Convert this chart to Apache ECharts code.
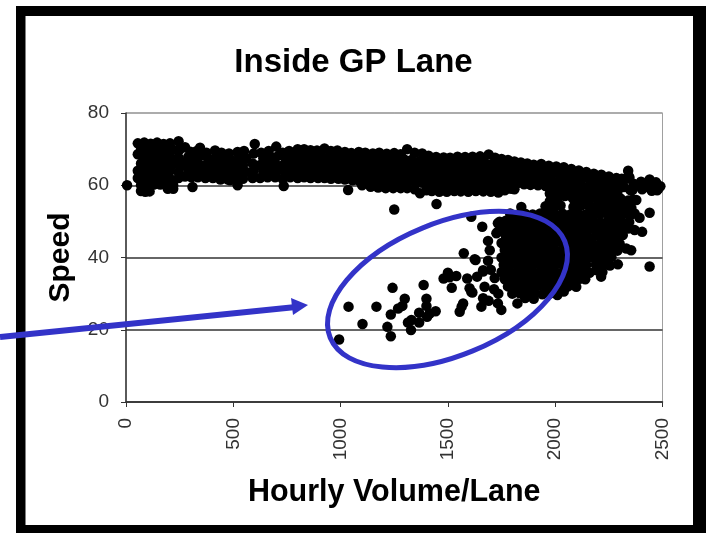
<!DOCTYPE html>
<html>
<head>
<meta charset="utf-8">
<title>Inside GP Lane</title>
<script src="https://cdn.jsdelivr.net/npm/echarts@6/dist/echarts.min.js"></script>
<style>
  html, body { margin: 0; padding: 0; background: #fff; }
  #chart { width: 706px; height: 533px; }
</style>
</head>
<body>
<div id="chart"></div>
<script>
// values, [hourly volume per lane, speed]
const bandTop = [[55,71.6],[85,71.8],[115,71.5],[145,71.8],[175,71.4],[205,71.6],[245,72.2],[275,70.5],[300,69.3],[330,69.5],[345,70.4],[375,69],[415,69.6],[445,69],[480,68.8],[520,69.2],[550,69.5],[600,71.4],[630,69],[665,69.5],[700,70.7],[730,69],[760,69.5],[800,70],[830,70],[860,69.7],[890,69.6],[925,70.2],[955,69.5],[985,69.6],[1020,69.2],[1050,68.9],[1085,69.2],[1115,69],[1150,68.8],[1180,69],[1215,68.7],[1250,68.9],[1280,68.6],[1310,70],[1345,69],[1380,68.8],[1410,68.2],[1445,67.8],[1480,67.7],[1510,67.6],[1545,67.9],[1580,67.8],[1615,67.9],[1650,68],[1690,68.5],[1720,67.6],[1750,67.3],[1780,67],[1810,66.6],[1840,66.3],[1870,66],[1900,65.7],[1935,65.9],[1970,65.4],[2005,65.2],[2040,65],[2075,64.5],[2110,64.1],[2145,63.7],[2180,63.2],[2215,62.9],[2250,62.4],[2285,62],[2310,61.8],[2340,64],[2345,62],[2400,61],[2440,61.6],[2470,60.8],[2490,59.7]]
const bandUpper = [[70,69.8],[100,69.6],[130,70],[160,69.8],[190,69.5],[220,69.8],[250,69.9],[290,67.8],[320,67.5],[350,68.2],[385,67.4],[420,67.6],[455,67.2],[490,67],[525,67.3],[560,67.5],[595,68.8],[640,67.5],[675,67.8],[710,68.2],[745,67.4],[780,67.8],[815,68],[845,67.8],[875,67.7],[910,68],[940,67.7],[970,67.5],[1005,67.4],[1035,67.2],[1070,67.2],[1100,67],[1135,66.9],[1165,67],[1200,66.8],[1235,66.9],[1265,66.7],[1295,67.2],[1330,67],[1365,66.6],[1395,66.4],[1430,66],[1465,65.8],[1495,65.7],[1530,65.9],[1565,65.8],[1600,66],[1635,66],[1670,66.3],[1705,65.8],[1735,65.4],[1765,65.1],[1795,64.7],[1825,64.4],[1855,64.1],[1885,63.9],[1920,63.9],[1955,63.5],[1990,63.3],[2025,63],[2060,62.7],[2095,62.3],[2130,61.9],[2165,61.4],[2200,61],[2235,60.6],[2270,60.2],[2300,60],[2330,61.8],[2365,60.4],[2420,59.5],[2455,59.8],[2480,59]]
const bandMiddle = [[55,68.6],[85,67.8],[115,68],[145,67.8],[175,67.6],[205,67.8],[245,67.6],[275,66.2],[305,65.8],[335,66],[370,65.6],[405,65.7],[440,65.3],[475,65.1],[510,65.4],[545,65.6],[590,66],[625,65.6],[660,65.8],[695,66],[730,65.5],[765,65.8],[800,66],[830,65.9],[860,65.7],[895,66],[925,65.8],[955,65.6],[990,65.5],[1020,65.3],[1055,65.3],[1085,65.1],[1120,65],[1150,65],[1185,64.9],[1220,65],[1250,64.8],[1280,65],[1315,65],[1350,64.7],[1380,64.5],[1415,64.1],[1450,63.9],[1480,63.8],[1515,64],[1550,63.9],[1585,64],[1620,64],[1655,64.3],[1690,64.2],[1720,63.6],[1750,63.2],[1780,62.8],[1810,62.5],[1840,62.2],[1870,62],[1905,62],[1940,61.7],[1975,61.4],[2010,61],[2045,60.8],[2080,60.4],[2115,60],[2150,59.5],[2185,59.2],[2220,58.8],[2255,58.4],[2290,58.2],[2320,59.5],[2350,58.7]]
const bandLower = [[70,66],[100,66],[130,65.8],[160,65.8],[190,65.6],[220,65.8],[255,65.4],[290,64.3],[320,64],[350,64.1],[385,63.8],[420,63.8],[455,63.4],[490,63.3],[525,63.5],[560,63.7],[595,64],[640,63.8],[675,64],[710,64.2],[745,63.6],[780,64],[815,64],[845,64],[875,63.8],[910,64],[940,63.9],[970,63.7],[1005,63.6],[1035,63.4],[1070,63.4],[1100,63.2],[1135,63],[1165,63],[1200,63],[1235,63],[1265,62.9],[1295,63],[1330,63],[1365,62.8],[1395,62.6],[1430,62.2],[1465,62],[1495,62],[1530,62.1],[1565,62],[1600,62.1],[1635,62.1],[1670,62.3],[1705,62],[1735,61.7],[1765,61.3],[1795,61],[1825,60.6],[1855,60.3],[1885,60.1],[1920,60],[1955,59.8],[1990,59.5],[2025,59.2],[2060,58.9],[2095,58.5],[2130,58],[2165,57.6],[2200,57.2],[2235,57],[2270,56.6]]
const bandBottom = [[55,64],[85,64],[115,64],[145,63.9],[175,63.8],[205,64],[245,63.6],[275,62.4],[305,62.2],[335,62.2],[370,62],[405,62],[440,61.6],[475,61.6],[510,61.6],[545,61.8],[590,62],[625,62],[660,62.2],[695,62.2],[730,61.8],[765,62.2],[800,62],[830,62.2],[860,62],[895,62],[925,62],[955,61.8],[990,61.8],[1020,61.6],[1055,61.4],[1085,61.3],[1120,61.2],[1150,61],[1185,61],[1220,61],[1250,61],[1280,61],[1315,61],[1350,60.9],[1380,60.7],[1415,60.4],[1450,60.2],[1480,60],[1515,60.3],[1550,60.1],[1585,60.2],[1620,60.3],[1655,60.4],[1690,60.2],[1720,59.8],[1750,59.5],[1780,59.2],[1810,58.9],[1975,57.7],[2010,57.4],[2045,57],[2080,56.6],[2115,56.2],[2150,55.8]]
const bandEdge = [[55,62],[85,62],[115,62],[145,61.8],[175,62],[205,61.8],[245,62],[70,60],[100,60],[130,60.2],[160,60.2],[190,60],[220,60],[5,60],[70,58.4],[90,58.2],[110,58.3],[195,59],[220,59],[310,59.5],[485,61.4],[520,60],[735,59.8],[1035,58.7],[1100,60],[1140,59.6],[1175,59.4],[1210,59.2],[1245,59.2],[1280,59.2],[1310,59.2],[1345,58.9],[1370,57.8],[1400,58.6],[1425,58.4],[1460,58.2],[1495,58.2],[1530,58.4],[1560,58.3],[1595,58.2],[1630,58.4],[1665,58.3],[1700,58.2],[1735,58],[1765,58.6],[1795,59],[2345,62.3],[2370,59.8],[2405,58.9],[2425,60],[2450,58.5],[2475,58.6],[2360,58.7]]
const lowerCloud = [[993,17.3],[1037,26.4],[1102,21.6],[1167,26.4],[1242,31.6],[1234,24.2],[1218,20.8],[1234,18.2],[1299,28.6],[1288,26.6],[1268,25.9],[1328,19.9],[1314,22],[1330,22.7],[1366,22],[1366,24.7],[1387,32.4],[1400,28.6],[1400,26.6],[1403,23.6],[1415,24.5],[1443,25.1],[1480,34.2],[1500,35.8],[1508,34.5],[1539,34.9],[1518,31.6],[1574,41.2],[1564,26.4],[1571,27.3],[1555,25],[1590,34.2],[1601,31.5],[1614,30.3],[1629,39.3],[1636,34.7],[1656,26.4],[1664,28.7],[1664,36.1],[1687,39.1],[1671,31.9],[1695,42],[1687,44.6],[1660,48.5],[1609,51.3],[1726,46.7],[1733,49.5],[1625,39.5],[1664,36.5],[1609,30.5],[1733,27.3],[1749,25.5],[1824,27.3],[1250,53.3],[1447,54.8],[1741,49.9],[1733,47.1],[1700,36.6],[1715,31.2],[1690,28],[1718,34.3],[1735,30]]
const coreHigh = [[1842,54],[1955,54.2],[1990,53.8],[2025,54.4],[2085,54],[2120,54.3],[2160,54],[1975,55.6],[2010,56],[2090,55.8],[2125,56.2],[1790,52.2],[1825,51.8],[1860,52.1],[1895,51.9],[1930,52.2],[1965,51.8],[2000,52],[2035,52.1],[2070,51.9],[2105,52.1],[2140,51.8],[2210,52.1],[1770,50.2],[1805,49.9],[1840,50.1],[1875,49.8],[1910,50.2],[1945,50],[1980,49.8],[2015,50.2],[2050,50],[2085,49.9],[2120,50.2],[2150,50],[2210,49.7],[2245,50.1],[1750,48.1],[1785,47.9],[1820,48.2],[1855,47.8],[1890,48],[1925,48.1],[1960,47.9],[1995,48.2],[2030,47.9],[2065,48],[2100,48.1],[2130,47.8],[2200,48],[2240,48.2]]
const coreMiddle = [[1770,46],[1805,46.2],[1840,45.9],[1875,46.1],[1910,46],[1945,45.8],[1980,46.1],[2015,46],[2050,45.9],[2085,46.2],[2120,46],[2150,45.9],[2190,46.1],[1750,44],[1785,44.2],[1820,43.9],[1855,44.1],[1890,44],[1925,43.8],[1960,44.1],[1995,44],[2030,44.2],[2065,43.9],[2100,44],[2135,44.1],[2170,44],[2210,43.9],[1765,42.1],[1800,41.9],[1835,42],[1870,42.2],[1905,41.9],[1940,42],[1975,42.1],[2010,41.8],[2045,42],[2080,42.1],[2115,41.9],[2150,42],[2180,42.1],[2215,41.9],[1750,40],[1785,40.1],[1820,39.8],[1855,40],[1890,40.2],[1925,39.9],[1960,40],[1995,40.1],[2030,39.9],[2065,40],[2100,40.2],[2135,39.9],[2170,40],[2200,40.1],[2230,39.8]]
const coreLow = [[1760,38],[1795,38.1],[1830,37.9],[1865,38],[1900,38.2],[1935,37.9],[1970,38],[2005,38.1],[2040,37.8],[2075,38],[2110,38.1],[2145,37.9],[2190,38],[1750,36],[1785,36.1],[1820,35.9],[1855,36],[1890,36.2],[1925,35.9],[1960,36],[1995,36.1],[2030,35.8],[2065,36],[2100,36.1],[2130,36],[2160,35.8],[1765,34],[1800,34.1],[1835,33.9],[1870,34],[1905,34.2],[1940,33.9],[1975,34],[2010,34.1],[2045,33.9],[2080,34],[2115,34.1],[2140,34],[1780,32],[1815,32.1],[1850,31.9],[1885,32],[1920,32.2],[1955,31.9],[1990,32],[2025,32.1],[2060,32],[2098,31.9],[1800,30],[1835,30.1],[1870,29.8],[1905,30],[1940,29.8],[1975,30],[2010,29.6],[2040,30.6],[1860,28.8],[1900,28.6]]
const rightFan = [[2214,34.7],[2191,36.5],[2292,38.1],[2238,39.8],[2440,37.5],[2331,42.5],[2354,42],[2370,47.6],[2405,47.1],[2440,52.4],[2393,51],[2269,45.3],[2315,46.2],[2230,46.8],[2284,49.5],[2331,52.3],[2300,55],[2360,56],[2378,55.9],[2192,52.3],[2230,53.5],[2260,52],[2240,56],[2205,55.5],[2330,49],[2265,42.5],[2195,42.8]]
const rightFanFill = [[2160,56],[2195,56.2],[2270,56],[2305,56.3],[2340,55.8],[2190,54],[2260,54.2],[2290,53.8],[2325,54.1],[2355,53.7],[2175,52],[2245,52.1],[2280,51.8],[2310,52],[2350,51.7],[2370,52.2],[2180,50],[2275,50.2],[2310,50],[2345,49.8],[2165,48],[2270,48.1],[2300,47.9],[2340,48],[2225,46],[2260,46.2],[2290,45.8],[2240,44],[2275,44.1],[2300,43.9],[2240,42.1],[2290,41.9],[2262,40.1],[2225,38],[2255,37.8],[2220,36]]

const yTicks = { min: 0, max: 80, step: 20 }
const xTicks = { min: 0, max: 2500, step: 500 }
const scatterData = [bandTop, bandUpper, bandMiddle, bandLower, bandBottom, bandEdge, lowerCloud, coreHigh, coreMiddle, coreLow, rightFan, rightFanFill].flat()

const blue = '#3333c8'
const chart = echarts.init(document.getElementById('chart'))

chart.setOption({
  animation: false,
  textStyle: { fontFamily: '"Liberation Sans", Arial, sans-serif' },
  title: {
    text: 'Inside GP Lane',
    left: 348.5,
    top: 41,
    textAlign: 'center',
    textStyle: { fontFamily: '"Liberation Sans", Arial, sans-serif', fontSize: 33, fontWeight: 'bold', color: '#000' }
  },
  grid: { left: 126, top: 113, width: 536.5, height: 289, show: true, borderColor: '#a0a0a0', borderWidth: 1, backgroundColor: '#fff' },
  xAxis: {
    type: 'value',
    min: xTicks.min,
    max: xTicks.max,
    interval: xTicks.step,
    name: 'Hourly Volume/Lane',
    nameLocation: 'middle',
    nameGap: 75,
    nameTextStyle: { fontSize: 30.5, fontWeight: 'bold', color: '#000' },
    axisLine: { show: true, lineStyle: { color: '#333', width: 1.5 } },
    axisTick: { show: true, length: 5, lineStyle: { color: '#333' } },
    axisLabel: { rotate: 90, margin: 16, fontSize: 19, color: '#333', formatter: (v) => String(v) },
    splitLine: { show: false }
  },
  yAxis: {
    type: 'value',
    min: yTicks.min,
    max: yTicks.max,
    interval: yTicks.step,
    name: 'Speed',
    nameLocation: 'middle',
    nameGap: 50,
    nameTextStyle: { fontSize: 30, fontWeight: 'bold', color: '#000' },
    axisLine: { show: true, lineStyle: { color: '#333', width: 1.5 } },
    axisTick: { show: true, length: 5, lineStyle: { color: '#333' } },
    axisLabel: { margin: 17, fontSize: 19, color: '#333' },
    // the 80 line belongs to the grey plot border
    splitLine: { show: true, lineStyle: { color: ['#333', '#333', '#333', '#333', '#a0a0a0'], width: 1.5 } }
  },
  graphic: [
    { type: 'rect', z: -10, shape: { x: 16, y: 6, width: 690, height: 527 }, style: { fill: '#000' } },
    { type: 'rect', z: -9, shape: { x: 25.5, y: 16, width: 667.5, height: 509 }, style: { fill: '#fff' } },
    // circled congestion region
    { type: 'ellipse', z: 100, x: 447.5, y: 289.5, rotation: 0.39, shape: { cx: 0, cy: 0, rx: 126.8, ry: 66.4 }, style: { fill: 'none', stroke: blue, lineWidth: 5 } },
    // arrow coming in from the left edge
    { type: 'polyline', z: 100, shape: { points: [[0, 337], [296, 307]] }, style: { stroke: blue, lineWidth: 6, fill: 'none' } },
    { type: 'polygon', z: 100, shape: { points: [[291, 298], [308, 305], [293, 315]] }, style: { fill: blue } }
  ],
  series: [
    {
      type: 'scatter',
      symbol: 'circle',
      symbolSize: 10.5,
      itemStyle: { color: '#000', opacity: 1 },
      data: scatterData
    }
  ]
})
</script>
</body>
</html>
